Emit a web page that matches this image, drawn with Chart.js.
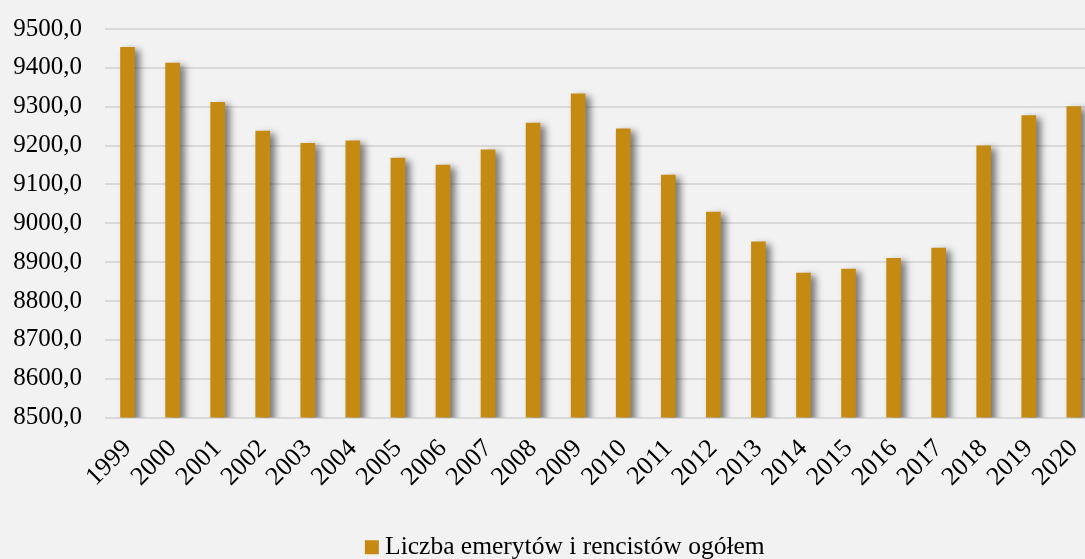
<!DOCTYPE html>
<html>
<head>
<meta charset="utf-8">
<script src="https://cdn.jsdelivr.net/npm/chart.js@4/dist/chart.umd.min.js"></script>
<style>
  html, body { margin: 0; padding: 0; background: #f2f2f2; overflow: hidden; }
  #wrap { position: absolute; left: 0; top: 0; width: 1112px; height: 559px; }
</style>
</head>
<body>
<div id="wrap"><canvas id="c"></canvas></div>
<script>
const years = ['1999','2000','2001','2002','2003','2004','2005','2006','2007','2008','2009','2010','2011','2012','2013','2014','2015','2016','2017','2018','2019','2020'];
const pensioners = [9453, 9412, 9311, 9237, 9206, 9212, 9168, 9150, 9189, 9258, 9333, 9243, 9124, 9029, 8952, 8872, 8882, 8910, 8936, 9199, 9277, 9300];
const seriesLabel = 'Liczba emerytów i rencistów ogółem';
const yMin = 8500, yMax = 9500, yStep = 100;

// soft drop shadow behind the bars, as in the original
const shadowPlugin = {
  id: 'barShadow',
  beforeDatasetDraw(chart) {
    const ctx = chart.ctx;
    ctx.save();
    ctx.shadowColor = 'rgba(0,0,0,0.5)';
    ctx.shadowBlur = 7;
    ctx.shadowOffsetX = 5;
    ctx.shadowOffsetY = 3;
  },
  afterDatasetDraw(chart) {
    chart.ctx.restore();
  }
};

// the original legend is centred on a slightly wider frame than the visible crop
const legendShift = {
  id: 'legendShift',
  afterLayout(chart) {
    const lg = chart.legend;
    if (lg) { lg.left += 14; lg.right += 14; }
  }
};

const FONT = "'Liberation Serif', 'Times New Roman', serif";

new Chart(document.getElementById('c'), {
  type: 'bar',
  data: {
    labels: years,
    datasets: [{
      label: seriesLabel,
      data: pensioners,
      backgroundColor: '#c48a12',
      borderWidth: 0,
      barThickness: 14
    }]
  },
  options: {
    responsive: true,
    maintainAspectRatio: false,
    animation: false,
    layout: { padding: { top: 29, right: 4, left: 0, bottom: -11 } },
    plugins: {
      legend: {
        position: 'bottom',
        labels: {
          color: '#000',
          font: { family: FONT, size: 25.5 },
          usePointStyle: true,
          pointStyle: 'rect',
          boxWidth: 1,
          boxHeight: 14,
          padding: 0
        }
      },
      tooltip: { enabled: false }
    },
    scales: {
      x: {
        grid: { display: false, drawTicks: false },
        border: { display: false },
        ticks: {
          color: '#000',
          font: { family: FONT, size: 26 },
          minRotation: 45,
          maxRotation: 45,
          autoSkip: false,
          padding: 16
        },
        afterFit(scale) { scale.height = 117; }
      },
      y: {
        min: yMin,
        max: yMax,
        grid: { color: '#d9d9d9', lineWidth: 2, drawTicks: true, tickLength: 23, tickColor: 'rgba(0,0,0,0)' },
        border: { display: false },
        ticks: {
          stepSize: yStep,
          color: '#000',
          font: { family: FONT, size: 25 },
          padding: 0,
          callback: v => v.toFixed(1).replace('.', ',')
        },
        afterFit(scale) { scale.width = 105; }
      }
    }
  },
  plugins: [shadowPlugin, legendShift]
});
</script>
</body>
</html>
